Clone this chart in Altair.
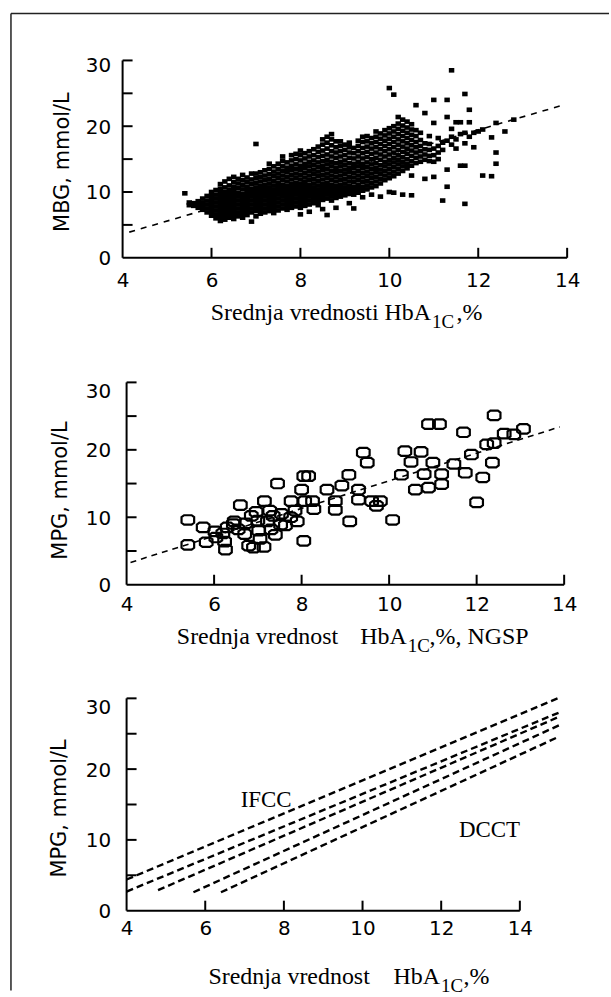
import altair as alt
import pandas as pd

SANS = "DejaVu Sans"
SERIF = "Liberation Serif"

X_LABELS = [4, 6, 8, 10, 12, 14]
X_TICKS = [6, 8, 10, 12, 14]
Y_LABELS = [0, 10, 20, 30]
Y_TICKS = [5, 10, 15, 20, 25, 30]

# ---------- Panel 1: MBG vs mean HbA1c (columns of points)
MBG_COLUMNS = [
    (5.4, [9.8]),
    (5.5, [8.0, 8.4]),
    (5.6, [7.9, 8.3]),
    (5.7, [7.6, 8.1, 8.6]),
    (5.8, [7.3, 7.9, 8.4, 9.0]),
    (5.9, [6.9, 7.5, 8.1, 8.7, 9.4]),
    (6.0, [6.4, 7.0, 7.6, 8.2, 8.8, 9.4, 10.0]),
    (6.1, [6.0, 6.6, 7.2, 7.8, 8.4, 9.0, 9.6, 10.3]),
    (6.2, [5.6, 6.2, 6.8, 7.4, 8.0, 8.6, 9.2, 9.8, 10.5, 11.2]),
    (6.3, [5.8, 6.4, 7.0, 7.6, 8.2, 8.8, 9.4, 10.0, 10.7, 11.6]),
    (6.4, [6.1, 6.7, 7.3, 7.9, 8.5, 9.1, 9.7, 10.3, 11.0, 12.0]),
    (6.5, [5.9, 6.5, 7.1, 7.7, 8.3, 8.9, 9.5, 10.1, 10.8, 11.5, 12.3]),
    (6.6, [6.3, 6.9, 7.5, 8.1, 8.7, 9.3, 9.9, 10.6, 11.3, 12.0]),
    (6.7, [6.1, 6.7, 7.3, 7.9, 8.5, 9.1, 9.7, 10.4, 11.1, 11.8, 12.6]),
    (6.8, [6.5, 7.1, 7.7, 8.3, 8.9, 9.5, 10.1, 10.8, 11.5, 12.2]),
    (6.9, [5.5, 6.9, 7.5, 8.1, 8.7, 9.3, 9.9, 10.5, 11.2, 11.9, 12.8]),
    (7.0, [6.3, 7.1, 7.7, 8.3, 8.9, 9.5, 10.1, 10.7, 11.4, 12.1, 12.8, 17.3]),
    (7.1, [6.7, 7.3, 7.9, 8.5, 9.1, 9.7, 10.3, 10.9, 11.6, 12.3, 13.0]),
    (7.2, [6.9, 7.5, 8.1, 8.7, 9.3, 9.9, 10.5, 11.1, 11.8, 12.5, 13.3]),
    (7.3, [7.1, 7.7, 8.3, 8.9, 9.5, 10.1, 10.7, 11.3, 12.0, 12.7, 13.5, 14.3]),
    (7.4, [6.8, 7.4, 8.0, 8.6, 9.2, 9.8, 10.4, 11.0, 11.7, 12.4, 13.1, 13.9]),
    (7.5, [7.2, 7.8, 8.4, 9.0, 9.6, 10.2, 10.8, 11.4, 12.1, 12.8, 13.5, 14.3]),
    (7.6, [7.5, 8.1, 8.7, 9.3, 9.9, 10.5, 11.1, 11.8, 12.5, 13.2, 13.9, 14.7, 15.4]),
    (7.7, [7.3, 7.9, 8.5, 9.1, 9.7, 10.3, 10.9, 11.6, 12.3, 13.0, 13.7, 14.5]),
    (7.8, [7.6, 8.2, 8.8, 9.4, 10.0, 10.6, 11.2, 11.9, 12.6, 13.3, 14.0, 14.8, 15.6]),
    (7.9, [7.8, 8.4, 9.0, 9.6, 10.2, 10.8, 11.4, 12.1, 12.8, 13.5, 14.2, 15.0, 15.8]),
    (8.0, [6.6, 7.6, 8.2, 8.8, 9.4, 10.0, 10.6, 11.2, 11.9, 12.6, 13.3, 14.0, 14.8, 15.6, 16.3]),
    (8.1, [7.9, 8.5, 9.1, 9.7, 10.3, 10.9, 11.5, 12.2, 12.9, 13.6, 14.3, 15.1, 15.9]),
    (8.2, [7.0, 8.1, 8.7, 9.3, 9.9, 10.5, 11.1, 11.8, 12.5, 13.2, 13.9, 14.6, 15.4, 16.2]),
    (8.3, [8.3, 8.9, 9.5, 10.1, 10.7, 11.3, 12.0, 12.7, 13.4, 14.1, 14.8, 15.6, 16.5]),
    (8.4, [8.0, 8.6, 9.2, 9.8, 10.4, 11.0, 11.7, 12.4, 13.1, 13.8, 14.5, 15.3, 16.1, 16.9]),
    (8.5, [7.4, 8.8, 9.4, 10.0, 10.6, 11.2, 11.9, 12.6, 13.3, 14.0, 14.7, 15.5, 16.3, 17.2, 18.0]),
    (8.6, [6.5, 9.0, 9.6, 10.2, 10.8, 11.4, 12.1, 12.8, 13.5, 14.2, 14.9, 15.7, 16.6, 17.5, 18.4]),
    (8.7, [8.7, 9.3, 9.9, 10.5, 11.1, 11.8, 12.5, 13.2, 13.9, 14.6, 15.4, 16.2, 17.1, 18.0, 18.8]),
    (8.8, [7.6, 9.1, 9.7, 10.3, 10.9, 11.6, 12.3, 13.0, 13.7, 14.4, 15.2, 16.0, 16.8, 17.7]),
    (8.9, [9.3, 9.9, 10.5, 11.1, 11.8, 12.5, 13.2, 13.9, 14.6, 15.4, 16.2, 17.0, 17.7]),
    (9.0, [9.5, 10.1, 10.7, 11.3, 12.0, 12.7, 13.4, 14.1, 14.8, 15.6, 16.4, 17.2]),
    (9.1, [8.3, 9.7, 10.3, 10.9, 11.6, 12.3, 13.0, 13.7, 14.4, 15.2, 16.0, 16.8, 17.5]),
    (9.2, [7.5, 9.6, 10.2, 10.8, 11.5, 12.2, 12.9, 13.6, 14.3, 15.1, 15.9, 16.7]),
    (9.3, [9.9, 10.5, 11.1, 11.8, 12.5, 13.2, 13.9, 14.6, 15.4, 16.2, 17.0, 17.8]),
    (9.4, [9.2, 10.2, 10.8, 11.5, 12.2, 12.9, 13.6, 14.3, 15.1, 15.9, 16.7, 17.6, 18.4]),
    (9.5, [10.4, 11.0, 11.7, 12.4, 13.1, 13.8, 14.5, 15.3, 16.1, 16.9, 17.7, 18.5]),
    (9.6, [9.6, 10.7, 11.4, 12.1, 12.8, 13.5, 14.2, 15.0, 15.8, 16.6, 17.4, 18.2]),
    (9.7, [10.9, 11.6, 12.3, 13.0, 13.7, 14.4, 15.2, 16.0, 16.8, 17.6, 18.4, 19.2]),
    (9.8, [9.3, 11.3, 12.0, 12.7, 13.4, 14.1, 14.9, 15.7, 16.5, 17.3, 18.1, 18.9]),
    (9.9, [11.8, 12.5, 13.2, 13.9, 14.6, 15.4, 16.2, 17.0, 17.8, 18.6, 19.4]),
    (10.0, [10.0, 12.1, 12.8, 13.5, 14.2, 14.9, 15.7, 16.5, 17.3, 18.1, 18.9, 19.7, 25.8]),
    (10.1, [9.9, 12.4, 13.1, 13.8, 14.5, 15.2, 16.0, 16.8, 17.6, 18.4, 19.2, 20.0, 24.8]),
    (10.2, [12.8, 13.5, 14.2, 14.9, 15.6, 16.4, 17.2, 18.0, 18.8, 19.6, 20.4, 21.4]),
    (10.3, [9.6, 13.2, 13.9, 14.6, 15.3, 16.1, 16.9, 17.7, 18.5, 19.3, 20.1, 21.0]),
    (10.4, [13.6, 14.3, 15.0, 15.8, 16.6, 17.4, 18.2, 19.0, 19.8, 20.7]),
    (10.5, [9.5, 12.5, 14.0, 14.7, 15.5, 16.3, 17.1, 17.9, 18.7, 19.5, 20.3]),
    (10.6, [14.4, 15.2, 16.0, 16.8, 17.6, 18.5, 19.4, 23.2]),
    (10.7, [14.6, 15.4, 16.2, 17.0, 17.9, 19.0]),
    (10.8, [12.0, 14.9, 15.7, 16.5, 17.4, 22.0]),
    (10.9, [14.7, 15.5, 16.4, 17.3, 18.5]),
    (11.0, [12.3, 14.6, 15.6, 16.6, 20.5, 24.0]),
    (11.1, [15.0, 16.0, 17.0, 18.2]),
    (11.2, [8.7, 16.4, 17.5]),
    (11.3, [10.8, 13.4, 17.8, 21.4, 24.0]),
    (11.4, [17.2, 18.4, 19.6, 28.5]),
    (11.5, [16.6, 18.0, 20.6]),
    (11.6, [14.0, 18.8, 20.6]),
    (11.7, [8.2, 14.0, 17.4, 19.0, 24.9]),
    (11.8, [18.4, 20.6, 22.5]),
    (11.9, [16.8, 19.0]),
    (12.0, [19.2]),
    (12.1, [12.5, 19.5]),
    (12.3, [12.4, 18.3]),
    (12.4, [14.3, 16.0, 20.5]),
    (12.6, [19.2]),
    (12.8, [21.0]),
]
MBG_LINE_X = [4.15, 13.95]
MBG_LINE_Y = [3.9, 23.3]

# ---------- Panel 2: MPG vs HbA1c (NGSP)
MPG_X = [5.40, 5.40, 5.75, 5.82, 6.02, 6.04, 6.24, 6.26, 6.30, 6.46, 6.60, 6.44, 6.70, 6.72,
         6.79, 6.90, 6.96, 7.00, 7.02, 7.05, 7.14, 7.15, 7.22, 7.27, 7.30, 7.35, 7.45, 7.52,
         7.54, 7.63, 7.76, 7.85, 7.90, 8.00, 8.05, 8.16, 8.07, 8.05, 8.25, 8.28, 8.58, 8.77,
         8.77, 8.92, 9.08, 9.10, 9.30, 9.30, 9.41, 9.50, 9.60, 9.71, 9.80, 10.08, 10.28, 10.36,
         10.50, 10.60, 10.73, 10.80, 10.90, 11.15, 10.90, 11.00, 11.20, 11.20, 11.48, 11.70,
         11.74, 11.88, 12.00, 12.14, 12.23, 12.36, 12.40, 12.40, 12.63, 12.85, 13.07, 6.55,
         6.85, 7.40, 7.75, 6.20]
MPG_Y = [9.6, 5.9, 8.5, 6.3, 7.9, 7.0, 6.4, 5.2, 8.5, 9.4, 11.8, 9.0, 7.5, 9.1,
         5.8, 5.5, 10.8, 9.5, 8.0, 6.8, 5.6, 12.4, 9.4, 11.0, 8.2, 10.2, 15.0, 8.9,
         10.5, 8.8, 12.4, 11.0, 9.4, 14.1, 16.1, 16.1, 12.4, 6.5, 12.4, 11.2, 14.1, 12.4,
         11.1, 14.7, 16.3, 9.4, 14.1, 12.6, 19.6, 18.1, 12.4, 11.7, 12.4, 9.6, 16.3, 19.8,
         18.2, 14.1, 19.7, 16.4, 23.8, 23.8, 14.4, 18.1, 16.4, 14.9, 17.9, 22.6,
         16.6, 19.3, 12.2, 15.9, 20.8, 18.1, 25.1, 21.0, 22.4, 22.3, 23.1, 8.2,
         10.2, 7.4, 10.0, 7.6]
MPG_LINE_X = [4.09, 13.9]
MPG_LINE_Y = [3.3, 23.4]

# ---------- Panel 3: estimated MPG lines (IFCC / DCCT)
EST_SERIES = ["L1", "L2", "L3", "L4", "L5"]
EST_X_START = [4.0, 4.0, 4.8, 5.7, 6.4]
EST_Y_START = [4.4, 2.7, 2.9, 2.6, 2.6]
EST_X_END = [15.0, 15.0, 15.0, 15.0, 15.0]
EST_Y_END = [30.1, 28.0, 27.4, 26.2, 24.6]
ANNOT_TEXT = ["IFCC", "DCCT"]
ANNOT_X = [7.55, 13.23]
ANNOT_Y = [15.6, 11.4]

RECT_PATH = "M-1,-0.85L1,-0.85L1,0.85L-1,0.85Z"
OCT_PATH = "M-1,-0.45L-0.6,-0.75L0.6,-0.75L1,-0.45L1,0.45L0.6,0.75L-0.6,0.75L-1,0.45Z"

ONE = pd.DataFrame({"k": [0]})


def encs(xdom, xrng, yrng, xlab_pad, ytitle, title_x, title_y, off30):
    x_enc = alt.X("x:Q",
                  scale=alt.Scale(domain=xdom, range=xrng, nice=False, zero=False),
                  axis=alt.Axis(values=X_LABELS, domain=False, ticks=False, grid=False,
                                labelPadding=xlab_pad, labelFont=SANS, labelFontSize=20,
                                labelColor="black", labelFlush=False, labelOverlap=False,
                                format="d", title=None))
    y_enc = alt.Y("y:Q",
                  scale=alt.Scale(domain=[0, 30], range=yrng, nice=False, zero=False),
                  axis=alt.Axis(values=Y_LABELS, domain=False, ticks=False, grid=False,
                                labelPadding=12, labelFont=SANS, labelFontSize=20,
                                labelColor="black", labelFlush=False, labelOverlap=False,
                                labelBaseline="middle", format="d",
                                labelOffset={"condition": {"test": "datum.value === 30", "value": off30},
                                             "value": 1},
                                title=ytitle, titleX=title_x, titleY=title_y, titleAngle=270,
                                titleAlign="center", titleBaseline="middle", titleFont=SANS,
                                titleFontSize=21, titleFontWeight="normal", titleColor="black"))
    return x_enc, y_enc


def frame_layers(x_enc, y_enc, H, x0, x_end):
    axis_df = pd.DataFrame({"x": [4, 4], "y": [0, 0], "x2": [4, x_end], "y2": [30, 0]})
    axis_lines = alt.Chart(axis_df).mark_rule(strokeWidth=2, color="black").encode(
        x=x_enc, y=y_enc, x2="x2:Q", y2="y2:Q")
    xt = alt.Chart(pd.DataFrame({"x": X_TICKS})).mark_rule(strokeWidth=2, color="black").encode(
        x=x_enc, y=alt.value(H), y2=alt.value(H - 10))
    yt = alt.Chart(pd.DataFrame({"y": Y_TICKS})).mark_rule(strokeWidth=2, color="black").encode(
        y=y_enc, x=alt.value(x0), x2=alt.value(x0 + 10))
    return [axis_lines, xt, yt]


def title_layers(parts):
    out = []
    for text, px, py, align, size in parts:
        out.append(alt.Chart(ONE).mark_text(font=SERIF, fontSize=size, align=align,
                                            baseline="alphabetic", color="black").encode(
            x=alt.value(px), y=alt.value(py), text=alt.value(text)))
    return out


# ----- Panel 1
W = 446
H1 = 198
x1, y1 = encs([4, 14], [0, 446], [H1, 0], 13, "MBG, mmol/L", -60, 101.5, 5)
rows = [(x, y) for x, col in MBG_COLUMNS for y in col]
mbg_df = pd.DataFrame(rows, columns=["x", "y"])
p1_points = alt.Chart(mbg_df).mark_point(shape=RECT_PATH, size=30, filled=True,
                                         color="black", opacity=1).encode(x=x1, y=y1)
p1_line = alt.Chart(pd.DataFrame({"x": MBG_LINE_X, "y": MBG_LINE_Y})).mark_line(
    color="black", strokeWidth=1.6, strokeDash=[6, 6]).encode(x=x1, y=y1)
frame_top = alt.Chart(ONE).mark_rule(color="#222", strokeWidth=1.5).encode(
    x=alt.value(-112), x2=alt.value(488), y=alt.value(-47))
frame_left = alt.Chart(ONE).mark_rule(color="#222", strokeWidth=1.5).encode(
    x=alt.value(-112), y=alt.value(-47), y2=alt.value(933))
p1 = alt.layer(
    *frame_layers(x1, y1, H1, 0, 14), p1_line, p1_points,
    *title_layers([("Srednja vrednosti HbA", 309.5, 260.3, "right", 24),
                   ("1C", 310.5, 268, "left", 19),
                   (",%", 335, 260.3, "left", 24)]),
    frame_top, frame_left,
).properties(width=W, height=H1)

# ----- Panel 2
H2 = 214
x2, y2 = encs([4, 14], [4, 443], [H2, 11], 10, "MPG, mmol/L", -62.5, 119, 9)
p2_points = alt.Chart(pd.DataFrame({"x": MPG_X, "y": MPG_Y})).mark_point(
    shape=OCT_PATH, size=160, filled=False, strokeWidth=2.2, color="black", opacity=1).encode(x=x2, y=y2)
p2_line = alt.Chart(pd.DataFrame({"x": MPG_LINE_X, "y": MPG_LINE_Y})).mark_line(
    color="black", strokeWidth=1.6, strokeDash=[6, 5]).encode(x=x2, y=y2)
p2 = alt.layer(
    *frame_layers(x2, y2, H2, 4, 14), p2_line, p2_points,
    *title_layers([("Srednja vrednost", 216.3, 273.3, "right", 24),
                   ("HbA", 285, 273.3, "right", 24),
                   ("1C", 286, 281, "left", 19),
                   (",%, NGSP", 308, 273.3, "left", 24)]),
).properties(width=W, height=H2)

# ----- Panel 3
H3 = 213
x3, y3 = encs([4, 15], [4, 438], [H3, 0], 8, "MPG, mmol/L", -63, 110, 9)
est_rows = []
for s, xa, ya, xb, yb in zip(EST_SERIES, EST_X_START, EST_Y_START, EST_X_END, EST_Y_END):
    est_rows.append((s, xa, ya))
    est_rows.append((s, xb, yb))
est_df = pd.DataFrame(est_rows, columns=["s", "x", "y"])
p3_lines = alt.Chart(est_df).mark_line(color="black", strokeWidth=2.4, strokeDash=[7, 4]).encode(
    x=x3, y=y3, detail="s:N")
annot = alt.Chart(pd.DataFrame({"x": ANNOT_X, "y": ANNOT_Y, "t": ANNOT_TEXT})).mark_text(
    font=SERIF, fontSize=23, align="center", baseline="middle", color="black").encode(
    x=x3, y=y3, text="t:N")
p3 = alt.layer(
    *frame_layers(x3, y3, H3, 4, 14), p3_lines, annot,
    *title_layers([("Srednja vrednost", 248, 287, "right", 24),
                   ("HbA", 318.4, 287, "right", 24),
                   ("1C", 319.5, 294.5, "left", 19),
                   (",%", 342, 287, "left", 24)]),
).properties(width=W, height=H3)

chart = alt.vconcat(p1, p2, p3, spacing=114, bounds="flush").properties(
    padding={"left": 9, "top": 10, "right": 0, "bottom": 0},
    background="white",
).configure_view(stroke="transparent")

chart.save("out.html", embed_options={"renderer": "svg", "actions": False})
